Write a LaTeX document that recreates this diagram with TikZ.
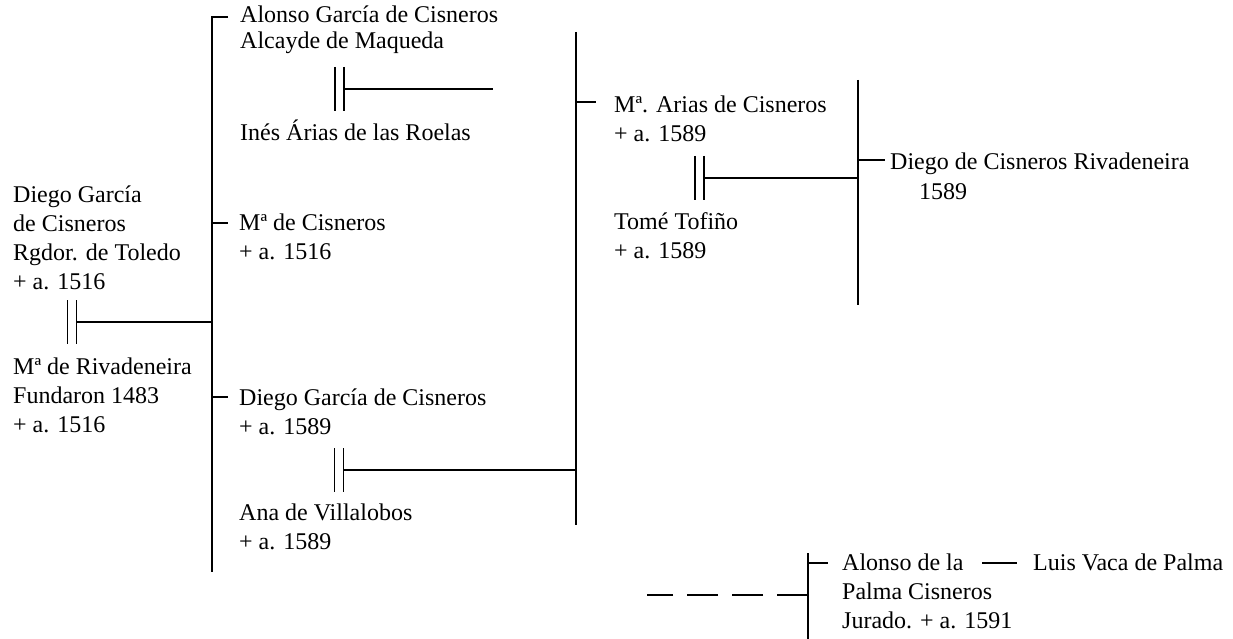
\documentclass[tikz,border=0pt]{standalone}
\usepackage{fontspec}
\setmainfont{Liberation Serif}
\usetikzlibrary{positioning,calc}
\newcommand\rows[1]{\begin{tabular}[t]{@{}l@{}}#1\end{tabular}}

\begin{document}
\begin{tikzpicture}[x=1pt,y=-1pt,
    person/.style={anchor=base west,inner sep=0pt,
      font=\fontsize{24}{29}\selectfont},
    tight/.style={person,font=\fontsize{24}{26}\selectfont},
    link/.style={line width=1.8pt,black},
    wed/.pic={\draw[link] (-4.5,-22)--(-4.5,22) (4.5,-22)--(4.5,22);}
  ]
  \useasboundingbox (0,0) rectangle (1233,639);
  % people
  \node[person] (diego) at (13,202) {\rows{Diego García\\de Cisneros\\Rgdor. de Toledo\\+ a. 1516}};
  \node[person] (rivad) at (13,374) {\rows{Mª de Rivadeneira\\Fundaron 1483\\+ a. 1516}};
  \node[tight] (alonso) at (240,23) {\rows{Alonso García de Cisneros\\Alcayde de Maqueda}};
  \node[person] (ines) at (240,141) {Inés Árias de las Roelas};
  \node[person] (maria) at (239,230) {\rows{Mª de Cisneros\\+ a. 1516}};
  \node[person] (diegog) at (239,405) {\rows{Diego García de Cisneros\\+ a. 1589}};
  \node[person] (ana) at (239,520) {\rows{Ana de Villalobos\\+ a. 1589}};
  \node[person] (arias) at (614,113) {\rows{Mª. Arias de Cisneros\\+ a. 1589}};
  \node[person] (tome) at (614,229) {\rows{Tomé Tofiño\\+ a. 1589}};
  \node[person] (heir) at (890,170) {\rows{Diego de Cisneros Rivadeneira\\\hspace*{29pt}1589}};
  \node[person] (palma) at (842,570) {\rows{Alonso de la\\Palma Cisneros\\Jurado. + a. 1591}};
  \node[person] (luis) at (1033,570) {Luis Vaca de Palma};
  % brackets
  \coordinate (b1) at (212,572);
  \coordinate (b2) at (576,32);  \coordinate (b2end) at (576,525);
  \coordinate (b3) at (858,80);  \coordinate (b3end) at (858,305);
  \coordinate (b4) at (808,553); \coordinate (b4end) at (808,639);
  \draw[link] ($(alonso.base west)+(-12,-6)$) -| (b1);
  \draw[link] (b2)--(b2end) (b3)--(b3end) (b4)--(b4end);
  % ticks to children
  \coordinate (t1) at ($(maria.base west)+(-11,-7)$);
  \coordinate (t2) at ($(diegog.base west)+(-11,-8)$);
  \coordinate (t3) at ($(arias.base west)+(-18,-11)$);
  \coordinate (t4) at ($(heir.base west)+(-5,-10)$);
  \coordinate (t5) at ($(palma.base west)+(-14,-7)$);
  \foreach \t/\b in {t1/b1,t2/b1,t3/b2,t4/b3,t5/b4}\draw[link](\b |- \t)--(\t);
  % marriages
  \coordinate (w1) at (72,322);
  \coordinate (w2) at (339.5,89);
  \coordinate (w3) at (339,470);
  \coordinate (w4) at (699.5,178);
  \coordinate (w2end) at (493,89);
  \foreach \w in {w1,w2,w3,w4}\pic at (\w) {wed};
  \draw[link] ([xshift=4.5pt]w1)--(w1 -| b1);
  \draw[link] ([xshift=4.5pt]w2)--(w2end);
  \draw[link] ([xshift=4.5pt]w3)--(w3 -| b2);
  \draw[link] ([xshift=4.5pt]w4)--(w4 -| b3);
  % line of descent
  \coordinate (dashend) at (647,595);
  \draw[link,dash pattern=on 31pt off 14pt] (b4 |- dashend)--(dashend);
  \draw[link] ($(luis.base west)+(-51,-7)$)--($(luis.base west)+(-16,-7)$);
\end{tikzpicture}
\end{document}
